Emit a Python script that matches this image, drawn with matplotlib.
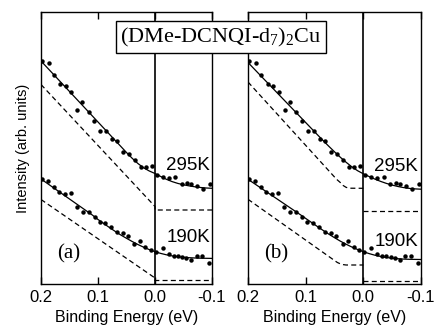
import matplotlib
matplotlib.use("Agg")
import matplotlib.pyplot as plt

# measured points (binding energy in eV, intensity in arb. units)
e_295 = [0.198, 0.186, 0.177, 0.166, 0.157, 0.147, 0.136, 0.128, 0.116, 0.107,
         0.096, 0.086, 0.075, 0.066, 0.056, 0.046, 0.035, 0.025, 0.016, 0.005,
         -0.003, -0.014, -0.024, -0.035, -0.047, -0.056, -0.064, -0.074, -0.085, -0.096]
i_295 = [222.7, 221.2, 209.0, 200.2, 197.8, 192.3, 174.5, 182.3, 171.7, 162.8,
         153.5, 152.7, 145.3, 143.2, 132.3, 129.7, 123.7, 117.3, 117.3, 117.7,
         109.5, 107.3, 105.7, 106.7, 100.0, 100.7, 100.0, 98.0, 94.7, 100.0]

e_190 = [0.198, 0.188, 0.178, 0.168, 0.158, 0.148, 0.137, 0.127, 0.116, 0.106,
         0.097, 0.087, 0.077, 0.066, 0.056, 0.047, 0.036, 0.027, 0.017, 0.007,
         -0.002, -0.014, -0.024, -0.033, -0.040, -0.048, -0.055, -0.063, -0.073, -0.083, -0.094]
i_190 = [104.7, 103.3, 97.3, 91.7, 90.0, 90.7, 77.3, 71.7, 71.7, 66.7,
         62.3, 60.7, 57.3, 52.3, 51.3, 48.0, 40.0, 43.0, 36.7, 34.0,
         32.3, 36.2, 30.0, 28.5, 27.7, 27.0, 26.2, 24.4, 27.7, 27.7, 21.0]

# fitted curves
fit_e = [0.20, 0.19, 0.18, 0.17, 0.16, 0.15, 0.14, 0.13, 0.12, 0.11, 0.10,
         0.09, 0.08, 0.07, 0.06, 0.05, 0.04, 0.03, 0.02, 0.01, 0.00,
         -0.01, -0.02, -0.03, -0.04, -0.05, -0.06, -0.07, -0.08, -0.09, -0.10]
fit_a_295 = [223.0, 216.9, 210.8, 204.7, 198.6, 192.5, 186.4, 180.3, 174.2, 168.1, 162.0,
             155.9, 149.8, 143.7, 137.6, 131.5, 125.7, 120.5, 116.2, 113.0, 110.5,
             107.5, 104.7, 102.4, 100.6, 99.2, 98.1, 97.2, 96.5, 96.0, 95.7]
fit_a_190 = [105.0, 101.0, 97.0, 93.0, 89.0, 85.0, 81.0, 77.0, 73.0, 69.0, 64.5,
             60.5, 56.5, 52.7, 49.0, 45.7, 42.5, 39.5, 36.8, 34.4, 32.3,
             30.6, 29.2, 28.1, 27.3, 26.7, 26.3, 26.0, 25.8, 25.7, 25.6]
fit_b_295 = [221.5, 215.5, 209.5, 203.5, 197.5, 191.5, 185.5, 179.5, 173.5, 167.5, 161.5,
             155.5, 149.5, 143.6, 137.8, 132.2, 126.8, 121.8, 117.2, 113.3, 110.2,
             107.5, 104.9, 102.6, 100.6, 98.9, 97.5, 96.4, 95.6, 95.1, 94.8]
fit_b_190 = [104.7, 100.8, 96.9, 93.0, 89.1, 85.2, 81.3, 77.4, 73.5, 69.6, 65.6,
             61.6, 57.6, 53.7, 49.9, 46.3, 42.9, 39.8, 37.0, 34.5, 32.3,
             30.4, 28.8, 27.5, 26.5, 25.8, 25.3, 24.9, 24.7, 24.6, 24.5]

# model DOS (dashed)
dos_a_e = [0.20, 0.00, 0.00, -0.10]
dos_a_295 = [199.5, 77.5, 74.0, 74.0]
dos_a_190 = [84.5, 6.0, 3.5, 3.5]
dos_b_e = [0.20, 0.05, 0.045, 0.04, 0.035, 0.03, 0.025, 0.00]
dos_b_295 = [202.0, 107.0, 104.0, 101.5, 98.5, 96.7, 95.8, 95.7]
dos_b_190 = [84.7, 23.5, 21.5, 20.2, 19.4, 19.0, 19.0, 19.0]
dos_b_e_right = [0.00, -0.10]
dos_b_295_right = [73.0, 73.0]
dos_b_190_right = [3.0, 3.0]

ticks = [0.2, 0.1, 0.0, -0.1]
tick_labels = ["0.2", "0.1", "0.0", "-0.1"]

sans = "Liberation Sans"
serif = "Liberation Serif"
plt.rcParams["mathtext.fontset"] = "custom"
plt.rcParams["mathtext.rm"] = serif

fig = plt.figure(figsize=(4.35, 3.29), dpi=100)
ax_a = fig.add_axes([41 / 435, 1 - 284 / 329, 171 / 435, 272 / 329])
ax_b = fig.add_axes([248 / 435, 1 - 284 / 329, 173 / 435, 272 / 329])

dash = (0, (4, 2.6))
panels = [
    (ax_a, fit_a_295, fit_a_190, "(a)"),
    (ax_b, fit_b_295, fit_b_190, "(b)"),
]
for ax, f295, f190, lab in panels:
    ax.plot(e_295, i_295, "o", color="black", ms=3.2, mec="none")
    ax.plot(e_190, i_190, "o", color="black", ms=3.2, mec="none")
    ax.plot(fit_e, f295, color="black", lw=0.9)
    ax.plot(fit_e, f190, color="black", lw=0.9)
    ax.axvline(0.0, color="black", lw=1.2)
    ax.set_xlim(0.2, -0.1)
    ax.set_ylim(0, 272)
    ax.set_xticks(ticks)
    ax.set_xticklabels(tick_labels, fontsize=12, family=sans)
    ax.set_yticks([])
    ax.tick_params(axis="x", direction="in", top=True, length=5, width=1, pad=4)
    for s in ax.spines.values():
        s.set_linewidth(1.0)
    ax.set_xlabel("Binding Energy (eV)", fontsize=11.5, family=sans, labelpad=4)
    ax.text(0.151, 30, lab, fontsize=15, family=serif, ha="center", va="center")

ax_a.text(-0.057, 118, "295K", fontsize=13.5, family=sans, ha="center", va="center")
ax_a.text(-0.058, 46, "190K", fontsize=13.5, family=sans, ha="center", va="center")
ax_b.text(-0.056, 117.5, "295K", fontsize=13.5, family=sans, ha="center", va="center")
ax_b.text(-0.057, 42, "190K", fontsize=13.5, family=sans, ha="center", va="center")

ax_a.plot(dos_a_e, dos_a_295, color="black", lw=0.9, ls=dash)
ax_a.plot(dos_a_e, dos_a_190, color="black", lw=0.9, ls=dash)
ax_b.plot(dos_b_e, dos_b_295, color="black", lw=0.9, ls=dash)
ax_b.plot(dos_b_e, dos_b_190, color="black", lw=0.9, ls=dash)
ax_b.plot(dos_b_e_right, dos_b_295_right, color="black", lw=0.9, ls=dash)
ax_b.plot(dos_b_e_right, dos_b_190_right, color="black", lw=0.9, ls=dash)

ax_a.set_ylabel("Intensity (arb. units)", fontsize=10.5, family=sans, labelpad=8)

fig.text(221 / 435, 1 - 37 / 329, r"(DMe-DCNQI-d$\mathregular{_7}$)$\mathregular{_2}$Cu",
         fontsize=16, family=serif, ha="center", va="center", zorder=10,
         bbox=dict(boxstyle="square,pad=0.2", facecolor="white", edgecolor="black", lw=1.0))

fig.savefig("out.png", dpi=100)
